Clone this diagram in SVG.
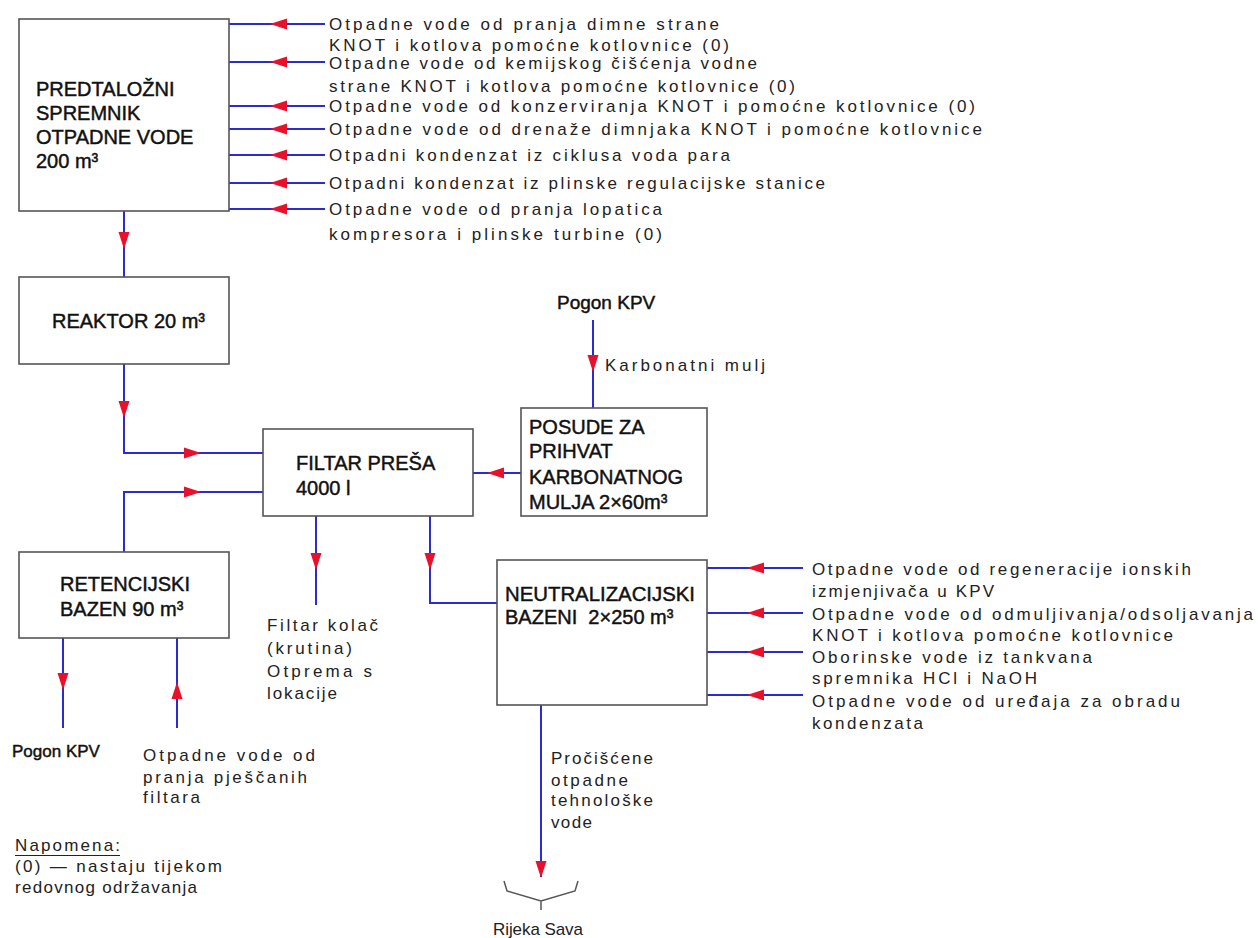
<svg xmlns="http://www.w3.org/2000/svg" xmlns:xlink="http://www.w3.org/1999/xlink" width="1258" height="938" viewBox="0 0 1258 938">
<style>
.box{fill:#fff;stroke:#555;stroke-width:1.6}
.bl{font-family:"Liberation Sans",Arial,sans-serif;font-size:20px;fill:#111;stroke:#111;stroke-width:0.45}
.fl{font-family:"Liberation Sans",Arial,sans-serif;font-size:17px;fill:#222}
.ln{fill:none;stroke:#2b2bd0;stroke-width:2}
.ah{fill:#e8102a}
.br{fill:none;stroke:#555;stroke-width:1.5}
</style>
<defs>
<path id="ahL" d="M0,0 L17,-5.5 L17,5.5 Z"/>
<path id="ahR" d="M0,0 L-17,-5.5 L-17,5.5 Z"/>
<path id="ahD" d="M0,0 L-5.5,-17 L5.5,-17 Z"/>
<path id="ahU" d="M0,0 L-5.5,17 L5.5,17 Z"/>
</defs>
<rect width="1258" height="938" fill="#fff"/>

<g id="connectors">
<path class="ln" d="M229,24H325M229,62H325M229,106H325M229,129H325M229,155H325M229,183H325M229,209H325"/>
<g class="ah">
<use xlink:href="#ahL" x="270" y="24"/><use xlink:href="#ahL" x="270" y="62"/><use xlink:href="#ahL" x="270" y="106"/><use xlink:href="#ahL" x="270" y="129"/><use xlink:href="#ahL" x="270" y="155"/><use xlink:href="#ahL" x="270" y="183"/><use xlink:href="#ahL" x="270" y="209"/>
</g>
<path class="ln" d="M124,211V277"/>
<use class="ah" xlink:href="#ahD" x="124" y="249"/>
<path class="ln" d="M124,364V453H263"/>
<use class="ah" xlink:href="#ahD" x="124" y="418"/>
<use class="ah" xlink:href="#ahR" x="201" y="453"/>
<path class="ln" d="M124,552V492H263"/>
<use class="ah" xlink:href="#ahR" x="201" y="492"/>
<path class="ln" d="M521,473H473"/>
<use class="ah" xlink:href="#ahL" x="487" y="473"/>
<path class="ln" d="M593,320V408"/>
<use class="ah" xlink:href="#ahD" x="593" y="372"/>
<path class="ln" d="M316,516V605"/>
<use class="ah" xlink:href="#ahD" x="316" y="570"/>
<path class="ln" d="M430,516V603H497"/>
<use class="ah" xlink:href="#ahD" x="430" y="570"/>
<path class="ln" d="M63,638V728"/>
<use class="ah" xlink:href="#ahD" x="63" y="690"/>
<path class="ln" d="M177,728V638"/>
<use class="ah" xlink:href="#ahU" x="177" y="682"/>
<path class="ln" d="M707,568H803M707,613H803M707,652H803M707,695H803"/>
<g class="ah">
<use xlink:href="#ahL" x="747" y="568"/><use xlink:href="#ahL" x="747" y="613"/><use xlink:href="#ahL" x="747" y="652"/><use xlink:href="#ahL" x="747" y="695"/>
</g>
<path class="ln" d="M541,705V877"/>
<use class="ah" xlink:href="#ahD" x="541" y="878"/>
<path class="br" d="M504,881L507,891L541,901L575,891L578,881M541,901V910"/>
</g>

<g id="labels">
<text class="fl" x="329" y="30" textLength="390" lengthAdjust="spacing">Otpadne vode od pranja dimne strane</text>
<text class="fl" x="329" y="51" textLength="400" lengthAdjust="spacing">KNOT i kotlova pomoćne kotlovnice (0)</text>
<text class="fl" x="329" y="69" textLength="428" lengthAdjust="spacing">Otpadne vode od kemijskog čišćenja vodne</text>
<text class="fl" x="329" y="92" textLength="466" lengthAdjust="spacing">strane KNOT i kotlova pomoćne kotlovnice (0)</text>
<text class="fl" x="329" y="112" textLength="646" lengthAdjust="spacing">Otpadne vode od konzerviranja KNOT i pomoćne kotlovnice (0)</text>
<text class="fl" x="329" y="135" textLength="653" lengthAdjust="spacing">Otpadne vode od drenaže dimnjaka KNOT i pomoćne kotlovnice</text>
<text class="fl" x="329" y="161" textLength="401" lengthAdjust="spacing">Otpadni kondenzat iz ciklusa voda para</text>
<text class="fl" x="329" y="189" textLength="496" lengthAdjust="spacing">Otpadni kondenzat iz plinske regulacijske stanice</text>
<text class="fl" x="329" y="215" textLength="333" lengthAdjust="spacing">Otpadne vode od pranja lopatica</text>
<text class="fl" x="329" y="240" textLength="333" lengthAdjust="spacing">kompresora i plinske turbine (0)</text>

<text class="fl" x="605" y="371" textLength="160" lengthAdjust="spacing">Karbonatni mulj</text>

<text class="fl" x="267" y="631" textLength="111" lengthAdjust="spacing">Filtar kolač</text>
<text class="fl" x="267" y="654" textLength="85" lengthAdjust="spacing">(krutina)</text>
<text class="fl" x="267" y="677" textLength="105" lengthAdjust="spacing">Otprema s</text>
<text class="fl" x="267" y="699" textLength="70" lengthAdjust="spacing">lokacije</text>

<text class="fl" x="143" y="761" textLength="172" lengthAdjust="spacing">Otpadne vode od</text>
<text class="fl" x="143" y="783" textLength="164" lengthAdjust="spacing">pranja pješčanih</text>
<text class="fl" x="143" y="803" textLength="57" lengthAdjust="spacing">filtara</text>

<text class="fl" x="15" y="851" textLength="105" lengthAdjust="spacing">Napomena:</text>
<path d="M15,855.5H120" stroke="#222" stroke-width="1.2"/>
<text class="fl" x="15" y="872" textLength="207" lengthAdjust="spacing">(0) — nastaju tijekom</text>
<text class="fl" x="15" y="893" textLength="182" lengthAdjust="spacing">redovnog održavanja</text>

<text class="fl" x="812" y="575" textLength="379" lengthAdjust="spacing">Otpadne vode od regeneracije ionskih</text>
<text class="fl" x="812" y="597" textLength="182" lengthAdjust="spacing">izmjenjivača u KPV</text>
<text class="fl" x="812" y="620" textLength="441" lengthAdjust="spacing">Otpadne vode od odmuljivanja/odsoljavanja</text>
<text class="fl" x="812" y="641" textLength="361" lengthAdjust="spacing">KNOT i kotlova pomoćne kotlovnice</text>
<text class="fl" x="812" y="663" textLength="280" lengthAdjust="spacing">Oborinske vode iz tankvana</text>
<text class="fl" x="812" y="684" textLength="225" lengthAdjust="spacing">spremnika HCl i NaOH</text>
<text class="fl" x="812" y="707" textLength="368" lengthAdjust="spacing">Otpadne vode od uređaja za obradu</text>
<text class="fl" x="812" y="729" textLength="111" lengthAdjust="spacing">kondenzata</text>

<text class="fl" x="551" y="764" textLength="102" lengthAdjust="spacing">Pročišćene</text>
<text class="fl" x="551" y="786" textLength="77" lengthAdjust="spacing">otpadne</text>
<text class="fl" x="551" y="806" textLength="102" lengthAdjust="spacing">tehnološke</text>
<text class="fl" x="551" y="828" textLength="41" lengthAdjust="spacing">vode</text>

<text class="fl" x="493" y="935" textLength="90" lengthAdjust="spacing">Rijeka Sava</text>
</g>

<g id="n-predtalozni">
<rect class="box" x="19" y="19" width="210" height="192"/>
<text class="bl" x="36" y="96">PREDTALOŽNI</text>
<text class="bl" x="36" y="120">SPREMNIK</text>
<text class="bl" x="36" y="144">OTPADNE VODE</text>
<text class="bl" x="36" y="168">200 m³</text>
</g>
<g id="n-reaktor">
<rect class="box" x="19" y="277" width="210" height="87"/>
<text class="bl" x="52" y="328">REAKTOR 20 m³</text>
</g>
<g id="n-filtar">
<rect class="box" x="263" y="429" width="210" height="87"/>
<text class="bl" x="296" y="470">FILTAR PREŠA</text>
<text class="bl" x="296" y="495">4000 l</text>
</g>
<g id="n-posude">
<rect class="box" x="521" y="408" width="186" height="108"/>
<text class="bl" x="529" y="434">POSUDE ZA</text>
<text class="bl" x="529" y="458">PRIHVAT</text>
<text class="bl" x="529" y="484">KARBONATNOG</text>
<text class="bl" x="529" y="509">MULJA 2×60m³</text>
</g>
<g id="n-pogon-kpv-top">
<text class="bl" x="557" y="309" style="font-size:19px">Pogon KPV</text>
</g>
<g id="n-retencijski">
<rect class="box" x="19" y="552" width="210" height="86"/>
<text class="bl" x="60" y="591">RETENCIJSKI</text>
<text class="bl" x="60" y="616">BAZEN 90 m³</text>
</g>
<g id="n-pogon-kpv-bottom">
<text class="bl" x="12" y="757" style="font-size:17px">Pogon KPV</text>
</g>
<g id="n-neutralizacijski">
<rect class="box" x="497" y="560" width="210" height="145"/>
<text class="bl" x="505" y="601" textLength="190" lengthAdjust="spacingAndGlyphs">NEUTRALIZACIJSKI</text>
<text class="bl" x="505" y="624" xml:space="preserve">BAZENI  2×250 m³</text>
</g>
</svg>
